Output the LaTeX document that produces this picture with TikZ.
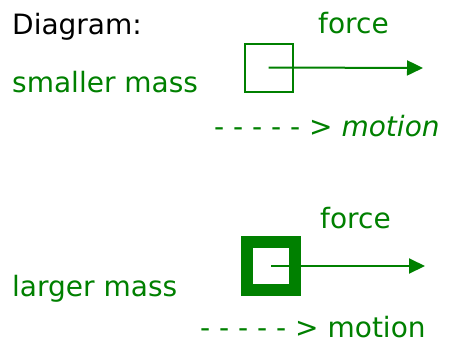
\documentclass[tikz,border=0pt]{standalone}
\usepackage{fontspec}
\setmainfont{DejaVu Sans}
\usetikzlibrary{arrows.meta}
\definecolor{webgreen}{HTML}{008000}

\begin{document}
\begin{tikzpicture}[x=1pt,y=-1pt,
    lbl/.style={anchor=base west, inner sep=0pt, text=webgreen,
        font=\fontsize{28}{32}\selectfont},
    force/.style={draw=webgreen, line width=2pt,
        -{Triangle[length=16pt,width=15pt]}}]

\useasboundingbox (0,0) rectangle (454,343);

\node[anchor=base west,
    inner sep=0pt,
    text=black,
    font=\fontsize{28}{32}\selectfont] (title) at (12,34) {Diagram:};

% smaller mass
\node[lbl] (fone) at (318,33) {force};
\node[lbl] (sname) at (12,92) {smaller mass};
\node[rectangle,
    draw = webgreen,
    line width = 2pt,
    minimum width = 48pt,
    minimum height = 48pt,
    inner sep = 0pt] (small) at (268.5,67.5) {};
\coordinate (sarrow) at (423,68);
\draw[force] (small.center) -- (sarrow);
\node[lbl] (smotion) at (214,136) {- - - - - > \textit{motion}};

% larger mass
\node[lbl] (ftwo) at (320,228) {force};
\node[lbl] (lname) at (12,296) {larger mass};
\node[rectangle,
    draw = webgreen,
    line width = 12pt,
    minimum width = 48pt,
    minimum height = 48pt,
    inner sep = 0pt] (large) at (271,266) {};
\coordinate (larrow) at (425,266);
\draw[force] (large.center) -- (larrow);
\node[lbl] (lmotion) at (200,337) {- - - - - > motion};
\end{tikzpicture}
\end{document}
